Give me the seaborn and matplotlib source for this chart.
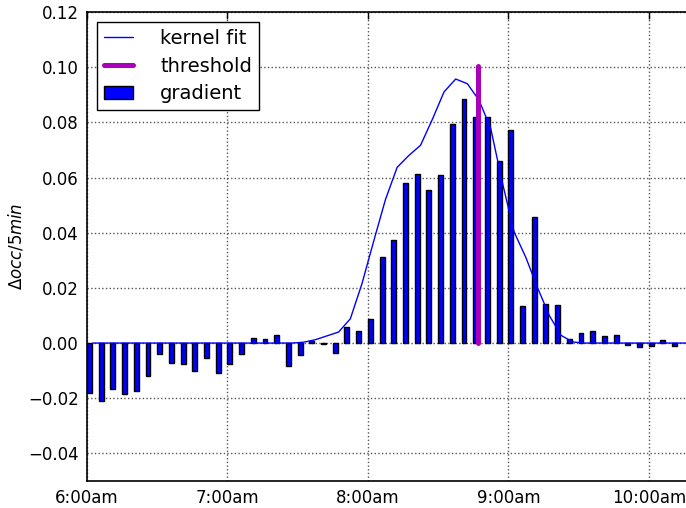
import numpy as np
import pandas as pd
import matplotlib
matplotlib.use("Agg")
import matplotlib.pyplot as plt
import seaborn as sns
from matplotlib.lines import Line2D
from matplotlib.patches import Patch
from matplotlib.ticker import FuncFormatter, FixedLocator

# ---- data (minutes after 6:00am) ----
bar_minutes = list(range(0, 251, 5))  # 6:00am .. 10:10am
gradient = [
    -0.0180, -0.0210, -0.0168, -0.0186, -0.0172, -0.0119, -0.0041, -0.0072,
    -0.0075, -0.0101, -0.0055, -0.0109,
    -0.0077, -0.0038, 0.0019, 0.0014, 0.0031, -0.0082, -0.0044, 0.0007,
    -0.0005, -0.0036, 0.0058, 0.0043,
    0.0086, 0.0311, 0.0373, 0.0580, 0.0613, 0.0553, 0.0608, 0.0795,
    0.0883, 0.0820, 0.0818, 0.0661,
    0.0772, 0.0133, 0.0457, 0.0142, 0.0137, 0.0016, 0.0035, 0.0042,
    0.0025, 0.0030, -0.0007, -0.0014,
    -0.0012, 0.0012, -0.0012,
]

kernel_minutes = [2.5 + 5 * i for i in range(52)]  # 6:02.5 .. 10:17.5
kernel_fit = (
    [0.0] * 18 +
    [0.0003, 0.0012, 0.0026, 0.0040, 0.0088, 0.0216, 0.0370, 0.0520,
     0.0637, 0.0680, 0.0717, 0.0810, 0.0910, 0.0957, 0.0940, 0.0880,
     0.0777, 0.0580, 0.0402, 0.0310, 0.0200, 0.0100, 0.0028, 0.0004] +
    [0.0] * 10
)

threshold_minute = 167.2
threshold_top = 0.1005

tick_minutes = [0, 60, 120, 180, 240]
tick_labels = ["6:00am", "7:00am", "8:00am", "9:00am", "10:00am"]

bars = pd.DataFrame({"minute": bar_minutes, "gradient": gradient})
kern = pd.DataFrame({"minute": kernel_minutes, "fit": kernel_fit})
thr = pd.DataFrame({"minute": [threshold_minute, threshold_minute],
                    "value": [0.0, threshold_top]})

# ---- style ----
sns.set_style("white", {
    "axes.edgecolor": "black",
    "xtick.direction": "in",
    "ytick.direction": "in",
})
plt.rcParams["font.family"] = ["DejaVu Sans"]
plt.rcParams["mathtext.fontset"] = "dejavusans"
plt.rcParams["xtick.top"] = True
plt.rcParams["ytick.right"] = True
plt.rcParams["text.color"] = "black"
plt.rcParams["xtick.labelcolor"] = "black"
plt.rcParams["ytick.labelcolor"] = "black"
plt.rcParams["axes.labelcolor"] = "black"

fig = plt.figure(figsize=(6.86, 5.08), dpi=100)
ax = fig.add_axes([87 / 686, 27 / 508, 632 / 686, 469 / 508])

ax.bar(bars["minute"], bars["gradient"], width=2.1, align="edge",
       color="#0000ff", edgecolor="black", linewidth=1.0, zorder=2)
sns.lineplot(data=kern, x="minute", y="fit", ax=ax, color="#0000ff",
             linewidth=1.0, zorder=3, estimator=None, legend=False)
sns.lineplot(data=thr, x="minute", y="value", ax=ax, color="#aa00bb",
             linewidth=3.6, zorder=4, estimator=None, legend=False)

ax.set_xlim(0, 270)
ax.set_ylim(-0.05, 0.12)
ax.xaxis.set_major_locator(FixedLocator(tick_minutes))
ax.set_xticklabels(tick_labels)
ax.set_yticks(np.arange(-0.04, 0.1201, 0.02))
ax.yaxis.set_major_formatter(FuncFormatter(
    lambda v, p: ("%.2f" % v).replace("-", "\u2212") if abs(v) > 1e-9 else "0.00"))
ax.tick_params(axis="both", which="major", labelsize=12, length=5, width=1,
               direction="in", top=True, right=True, color="black", pad=6)
ax.grid(True, color="#555555", linestyle=":", linewidth=1.0)
ax.set_axisbelow(True)
ax.set_xlabel("")
ax.set_ylabel(r"$\Delta occ/5min$", fontsize=12)
ax.yaxis.set_label_coords(-0.098, 0.5)
for s in ax.spines.values():
    s.set_linewidth(1.2)
    s.set_color("black")

handles = [
    Line2D([0], [0], color="#0000ff", lw=1.0),
    Line2D([0], [0], color="#aa00bb", lw=3.6),
    Patch(facecolor="#0000ff", edgecolor="black", linewidth=1.0),
]
leg = ax.legend(handles, ["kernel fit", "threshold", "gradient"],
                loc="upper left", fontsize=14, frameon=True, fancybox=False,
                framealpha=1, edgecolor="black", borderpad=0.35,
                handlelength=1.5, handletextpad=1.4, labelspacing=0.45,
                borderaxespad=0, bbox_to_anchor=(10 / 632, 1 - 10 / 469))
leg.get_frame().set_linewidth(1.0)

fig.savefig("out.png", dpi=100)
